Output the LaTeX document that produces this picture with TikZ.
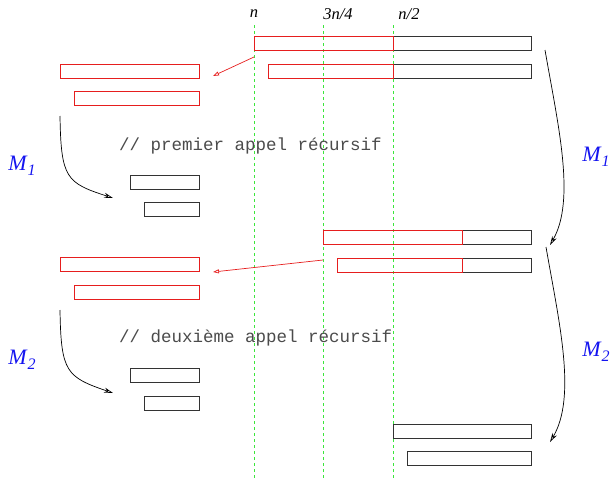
\documentclass[tikz,border=0pt]{standalone}
\usepackage{fontspec}
\setmainfont{Liberation Serif}
\setmonofont{Liberation Mono}
\usetikzlibrary{arrows.meta}
\definecolor{fred}{RGB}{230,30,30}
\definecolor{fgreen}{RGB}{60,230,60}
\definecolor{fblue}{RGB}{20,20,240}
\definecolor{fgray}{RGB}{75,75,75}
\newcommand{\Mlab}[1]{\textit{M}\raisebox{-0.45ex}{\fontsize{16}{16}\selectfont\textit{#1}}}
\begin{document}
\begin{tikzpicture}[x=1pt,y=-1pt,
  box/.style={draw=black!80,line width=0.9pt,inner sep=0pt,anchor=north west,minimum height=14pt},
  rbox/.style={draw=fred,line width=0.9pt,inner sep=0pt,anchor=north west,minimum height=14pt},
  guide/.style={draw=fgreen,dashed,line width=0.8pt,dash pattern=on 3pt off 3pt},
  redarr/.style={draw=fred,line width=0.7pt,-{Triangle[open,length=6pt,width=4pt]}},
  curv/.style={draw=black,line width=0.7pt,-{Stealth[open,length=9pt,width=5pt]}},
  lab/.style={font=\fontsize{16.5}{16.5}\selectfont\itshape,inner sep=0pt},
  mlab/.style={font=\fontsize{22}{22}\selectfont,text=fblue,inner sep=0pt},
  comm/.style={font=\fontsize{17.5}{17.5}\selectfont\ttfamily,text=fgray,inner sep=0pt,anchor=west}]
\useasboundingbox (0,0) rectangle (612,479);
% guides
\coordinate (gnT) at (254,25); \coordinate (gnB) at (254,479);
\coordinate (g3T) at (323,25); \coordinate (g3B) at (323,479);
\coordinate (g2T) at (393,25); \coordinate (g2B) at (393,479);
\draw[guide] (gnT) -- (gnB);
\draw[guide] (g3T) -- (g3B);
\draw[guide] (g2T) -- (g2B);
\node[lab] (ln) at (254,14) {n};
\node[lab] (l3) at (338,14) {3n/4};
\node[lab] (l2) at (409,14) {n/2};
% top right
\node[box,minimum width=277pt] (t1) at (254,36) {};
\node[rbox,minimum width=139pt] (t1r) at (254,36) {};
\node[box,minimum width=263pt] (t2) at (268,64) {};
\node[rbox,minimum width=125pt] (t2r) at (268,64) {};
% left first call
\node[rbox,minimum width=139pt] (a1) at (60,64) {};
\node[rbox,minimum width=125pt] (a2) at (74,91) {};
\node[box,minimum width=69pt] (b1) at (130,175) {};
\node[box,minimum width=55pt] (b2) at (144,202) {};
\coordinate (r1s) at (254,57); \coordinate (r1e) at (213,76);
\draw[redarr] (r1s) -- (r1e);
\coordinate (c1s) at (60,116); \coordinate (c1e) at (113,198);
\draw[curv] (c1s) .. controls (61,178) and (66,183) .. (c1e);
\node[mlab] (m1l) at (22,166) {\Mlab{1}};
\node[comm] (cm1) at (119,146) {// premier appel récursif};
% middle right
\node[box,minimum width=208pt] (m1) at (323,230) {};
\node[rbox,minimum width=139pt] (m1r) at (323,230) {};
\node[box,minimum width=194pt] (m2) at (337,258) {};
\node[rbox,minimum width=125pt] (m2r) at (337,258) {};
% left second call
\node[rbox,minimum width=139pt] (a3) at (60,257) {};
\node[rbox,minimum width=125pt] (a4) at (74,285) {};
\node[box,minimum width=69pt] (b3) at (130,368) {};
\node[box,minimum width=55pt] (b4) at (144,396) {};
\coordinate (r2s) at (323,260); \coordinate (r2e) at (213,272);
\draw[redarr] (r2s) -- (r2e);
\coordinate (c2s) at (60,310); \coordinate (c2e) at (113,393);
\draw[curv] (c2s) .. controls (61,372) and (66,377) .. (c2e);
\node[mlab] (m2l) at (22,360) {\Mlab{2}};
\node[comm] (cm2) at (119,338) {// deuxième appel récursif};
% bottom right
\node[box,minimum width=138pt] (e1) at (393,424) {};
\node[box,minimum width=124pt] (e2) at (407,451) {};
% right curves
\coordinate (k1s) at (545,50); \coordinate (k1e) at (550,245);
\draw[curv] (k1s) .. controls (558,125) and (576,200) .. (k1e);
\node[mlab] (mr1) at (596,157) {\Mlab{1}};
\coordinate (k2s) at (546,247); \coordinate (k2e) at (550,442);
\draw[curv] (k2s) .. controls (559,322) and (577,397) .. (k2e);
\node[mlab] (mr2) at (596,352) {\Mlab{2}};
\end{tikzpicture}
\end{document}
